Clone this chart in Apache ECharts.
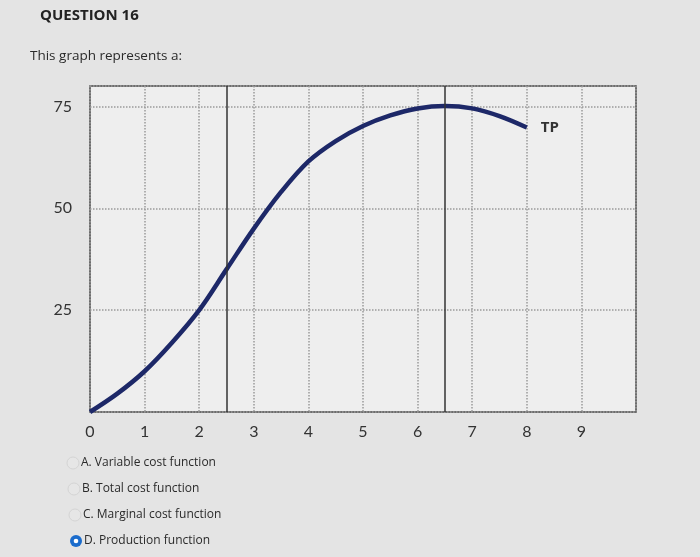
<!DOCTYPE html>
<html>
<head>
<meta charset="utf-8">
<script src="https://cdn.jsdelivr.net/npm/echarts@6/dist/echarts.min.js"></script>
<style>
  html, body { margin: 0; padding: 0; background: #e4e4e4; }
  #chart { width: 700px; height: 557px; }
</style>
</head>
<body>
<div id="chart"></div>
<script>
// 总产量曲线 TP
const tpX = [0, 0.5, 1, 1.5, 2, 2.5, 3, 3.5, 4, 4.5, 5, 5.5, 6, 6.5, 7, 7.5, 8];
const tpY = [0, 4.5, 10, 17, 25, 35, 45, 54, 61.5, 66.5, 70.2, 72.8, 74.5, 75.1, 74.5, 72.6, 69.8];
// 两条竖线（拐点、最高点）
const markerX = [2.5, 6.5];
const yLabels = [25, 50, 75];
const xLabels = ['0', '1', '2', '3', '4', '5', '6', '7', '8', '9'];

const questionTitle = 'QUESTION 16';
const prompt = 'This graph represents a:';
const answers = ['A. Variable cost function', 'B. Total cost function', 'C. Marginal cost function', 'D. Production function'];
const selected = 3;

let myChart = echarts.init(document.getElementById('chart'));

let graphics = [
    {
        type: 'text', left: 40, top: 8,
        style: { text: questionTitle, font: 'bold 15px "Open Sans"', fill: '#222' }
    },
    {
        type: 'text', left: 30, top: 49,
        style: { text: prompt, font: '13.5px "Open Sans"', fill: '#2a2a2a' }
    }
];
answers.forEach((a, i) => {
    let cy = 463 + i * 26;
    let cx = 73 + i;
    if (i == selected) {
        graphics.push({ type: 'circle', shape: { cx: cx, cy: cy, r: 6 }, style: { fill: '#1b6ccc' } });
        graphics.push({ type: 'circle', shape: { cx: cx, cy: cy, r: 2.3 }, style: { fill: '#fff' } });
    } else {
        graphics.push({ type: 'circle', shape: { cx: cx, cy: cy, r: 6 }, style: { fill: '#e6e6e6', stroke: '#d4d4d4', lineWidth: 1 } });
    }
    graphics.push({
        type: 'text', x: cx + 8, y: cy,
        style: { text: a, font: '12px "Open Sans"', fill: '#2a2a2a', verticalAlign: 'middle' }
    });
});

myChart.setOption({
    backgroundColor: '#e4e4e4',
    animation: false,
    grid: {
        left: 90, right: 64, top: 86, bottom: 145,
        show: true,
        backgroundColor: '#eeeeee',
        borderColor: '#444',
        borderWidth: 1.5
    },
    xAxis: {
        type: 'value',
        min: 0, max: 10, interval: 1,
        axisLine: { show: false },
        axisTick: { show: false },
        axisLabel: {
            margin: 12,
            fontSize: 16,
            fontFamily: 'Lato',
            color: '#333',
            formatter: function (v) {
                return xLabels[v] !== undefined ? xLabels[v] : '';
            }
        },
        splitLine: { show: true, lineStyle: { type: 'dotted', color: '#9a9a9a', width: 1.5 } }
    },
    yAxis: {
        type: 'value',
        min: 0, max: 80, interval: 25,
        axisLine: { show: false },
        axisTick: { show: false },
        axisLabel: {
            margin: 18,
            fontSize: 16,
            fontFamily: 'Lato',
            color: '#333',
            formatter: function (v) {
                return yLabels.indexOf(v) != -1 ? String(v) : '';
            }
        },
        splitLine: { show: true, lineStyle: { type: 'dotted', color: '#9a9a9a', width: 1.5 } }
    },
    graphic: graphics,
    series: [{
        type: 'line',
        name: 'TP',
        smooth: 0.35,
        symbol: 'none',
        data: tpX.map((x, i) => [x, tpY[i]]),
        lineStyle: { color: '#1d2868', width: 4.5 },
        endLabel: {
            show: true,
            formatter: 'TP',
            fontSize: 15,
            fontWeight: 'bold',
            fontFamily: 'Open Sans',
            color: '#333',
            offset: [6, 0]
        },
        markLine: {
            silent: true,
            symbol: ['none', 'none'],
            label: { show: false },
            lineStyle: { type: 'solid', color: '#333', width: 1.5 },
            data: markerX.map(x => ({ xAxis: x }))
        }
    }]
});
</script>
</body>
</html>
